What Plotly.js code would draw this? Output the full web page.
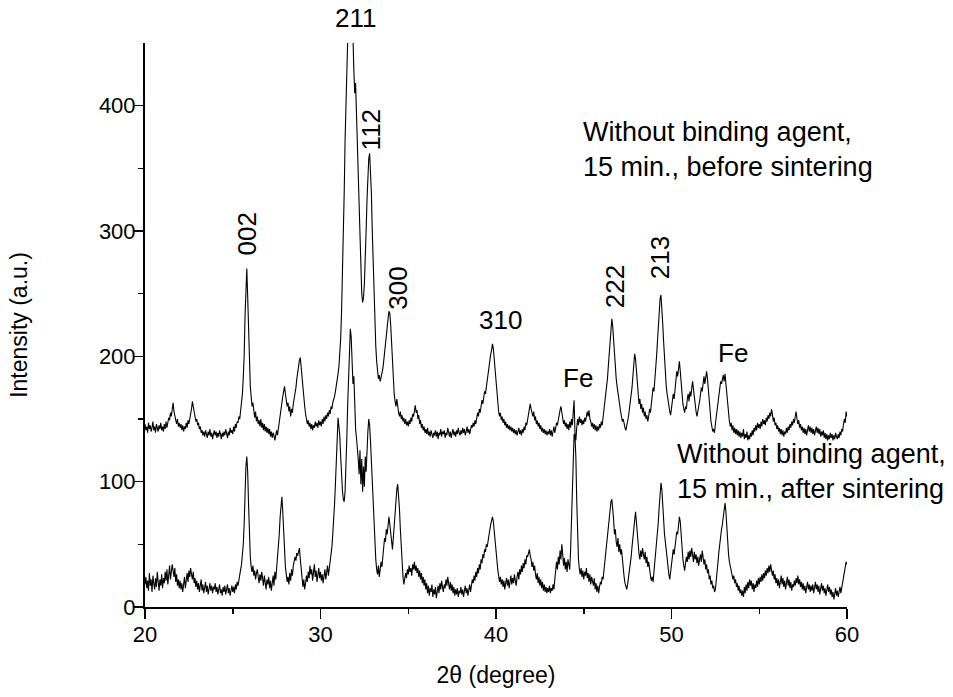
<!DOCTYPE html>
<html>
<head>
<meta charset="utf-8">
<script src="https://cdn.plot.ly/plotly-3.0.1.min.js"></script>
<style>html,body{margin:0;padding:0;background:#fff;}#chart{width:953px;height:697px;}</style>
</head>
<body>
<div id="chart"></div>
<script>
// 2θ sampling grid of the scans
const thetaStart = 20;
const thetaStep = 0.05;

// Intensity, without binding agent, 15 min., before sintering (one row per degree, 20..60)
const beforeSintering = [
146,141,144,139,147,142,145,140,143,148,141,144,139,146,143,140,145,142,147,141,
144,140,146,142,148,143,147,151,149,155,152,158,163,156,153,149,146,150,144,147,
143,146,141,145,140,144,142,147,143,149,146,150,153,158,164,159,155,152,148,150,
145,147,142,144,139,141,137,140,136,141,138,135,140,137,142,136,139,134,138,141,
137,140,135,139,136,141,138,134,139,136,140,137,142,138,135,140,137,143,139,141,
138,144,140,146,143,148,147,152,150,157,162,170,183,200,232,262,270,248,215,190,
176,168,160,163,155,151,156,148,152,146,149,144,150,143,147,141,146,140,144,139,
143,138,142,136,140,135,139,137,133,138,141,137,143,148,152,158,163,168,172,176,
170,165,160,163,156,160,152,158,155,162,166,170,175,182,188,193,197,199,190,182,
172,165,160,154,150,146,149,144,147,142,146,141,145,143,148,144,147,143,149,145,
148,144,150,146,152,148,153,150,155,152,157,154,160,158,163,165,168,172,176,180,
186,192,200,214,236,262,292,330,372,410,442,466,480,488,492,486,474,455,428,410,
418,395,370,340,310,285,265,250,243,247,258,275,300,325,345,358,362,350,330,300,
272,245,225,208,196,188,182,185,180,183,186,190,196,204,212,220,226,230,236,234,
225,210,192,178,170,164,160,166,158,155,152,156,150,153,148,151,146,150,145,148,
144,149,146,151,148,154,152,158,161,155,157,150,153,146,149,143,146,141,144,139,
142,138,143,137,140,136,141,138,135,139,137,141,136,140,134,139,137,142,136,140,
138,141,135,139,137,143,138,136,140,135,139,142,137,140,136,141,138,143,139,137,
141,138,143,139,142,137,140,144,139,142,138,141,145,143,147,144,149,146,151,155,
152,158,155,161,165,162,168,172,170,176,182,186,190,196,202,205,210,206,198,188,
176,168,160,156,152,155,149,152,147,150,145,148,143,146,142,145,141,144,140,143,
139,142,138,141,137,140,143,138,141,137,142,139,144,141,147,145,150,153,156,162,
158,155,152,156,149,152,146,149,144,147,142,145,140,143,139,142,138,141,137,140,
138,142,137,141,136,140,144,139,143,147,145,150,153,157,160,154,150,146,149,144,
147,142,146,141,148,143,150,145,155,165,138,133,143,150,145,152,147,150,145,149,
146,151,148,153,156,152,157,150,148,144,147,142,146,141,145,140,144,141,146,143,
148,145,151,155,160,166,173,182,192,204,216,226,230,224,212,200,190,182,176,170,
166,160,156,152,148,150,145,143,141,144,148,152,158,163,168,175,184,194,202,198,
188,176,168,162,166,158,162,155,159,152,156,150,153,148,152,158,155,162,168,175,
172,180,190,200,212,225,238,246,249,240,226,212,198,186,176,170,164,160,156,153,
158,164,170,166,175,182,188,184,192,196,188,178,170,162,158,155,160,158,166,170,
164,172,168,176,180,174,166,160,156,152,155,160,164,170,175,172,180,184,178,186,
188,182,172,162,155,148,144,140,142,139,146,152,158,164,170,176,180,178,183,185,
180,186,178,170,160,152,148,144,147,141,145,139,143,138,142,137,141,136,140,135,
139,136,142,134,138,135,140,133,137,134,139,136,141,137,143,140,145,141,147,143,
146,142,148,144,150,146,149,145,151,148,153,150,155,152,158,154,148,151,145,147,
142,145,140,143,138,142,137,141,136,140,138,143,139,144,141,146,143,148,145,150,
147,152,156,150,146,149,143,146,141,144,139,143,138,142,137,141,145,140,144,139,
143,138,142,137,141,144,139,143,138,142,136,140,137,141,135,139,134,138,133,137,
134,139,135,138,133,137,134,139,136,134,138,135,140,137,142,140,146,150,147,156,
152
];

// Intensity, without binding agent, 15 min., after sintering (one row per degree, 20..60)
const afterSintering = [
18,24,15,21,13,27,17,22,12,25,19,14,23,16,28,20,13,22,17,26,
15,23,19,28,21,30,18,25,33,22,27,34,29,24,31,20,26,17,22,15,
21,14,19,12,18,24,15,22,27,20,29,24,31,26,22,28,19,23,16,21,
14,19,12,17,22,13,18,11,16,20,12,17,10,15,19,13,17,11,16,14,
19,12,16,10,15,18,11,14,9,16,12,17,10,14,18,11,15,9,13,17,
12,16,11,18,14,20,17,23,26,30,34,40,50,66,92,112,120,108,82,58,
40,32,28,33,25,29,22,27,30,24,19,26,21,28,23,17,25,20,14,22,
18,24,15,21,13,19,25,17,28,22,30,38,46,58,72,85,88,76,58,42,
32,26,20,24,18,27,21,30,25,33,36,40,37,43,41,46,47,38,28,20,
16,22,14,19,25,20,28,23,33,26,30,21,27,34,24,29,20,26,31,23,
28,21,26,19,24,30,22,27,33,25,30,36,42,48,58,68,82,98,118,142,
151,144,136,120,104,93,86,84,92,110,135,162,188,210,222,215,196,178,184,160,
142,135,128,118,106,125,98,118,92,112,96,120,108,128,140,150,145,132,115,95,
78,62,48,38,30,26,33,24,30,36,32,40,48,55,52,62,58,68,72,66,
58,50,46,55,64,76,88,94,98,90,78,62,45,32,24,18,22,27,23,30,
26,33,28,31,25,34,30,36,29,33,27,31,24,29,22,27,19,24,17,22,
14,19,11,17,9,15,12,18,8,14,10,16,7,13,17,11,19,14,21,16,
12,18,15,22,17,24,19,14,20,13,18,11,16,9,14,10,15,8,13,11,
16,10,14,8,13,17,11,15,9,14,18,12,17,22,19,25,21,28,24,31,
27,34,30,38,35,42,39,46,44,50,48,54,58,62,66,70,72,68,60,50,
42,36,30,25,20,24,18,22,16,21,14,19,23,17,22,15,20,25,18,23,
19,26,21,17,24,28,22,30,26,33,28,35,31,38,34,41,40,44,46,41,
38,32,36,29,33,26,22,27,19,24,17,22,15,20,13,18,12,16,11,15,
12,17,11,15,13,18,14,22,28,36,30,40,34,45,38,50,42,33,39,30,
36,28,38,32,30,45,70,105,132,138,136,120,85,55,38,30,26,31,24,29,
22,28,25,31,23,27,20,26,18,24,21,17,23,14,19,12,17,11,16,20,
18,24,22,29,33,40,46,55,62,70,78,84,86,80,70,58,62,52,48,55,
44,50,42,46,36,30,24,19,15,14,18,23,28,34,40,48,56,66,74,76,
68,58,48,42,38,45,40,47,42,38,44,35,40,32,36,28,25,21,24,20,
28,34,40,48,58,68,80,92,99,94,80,68,58,52,44,36,30,26,22,27,
34,40,46,42,50,55,60,58,66,72,68,56,46,38,33,29,35,40,36,44,
38,45,40,47,42,36,44,38,42,35,40,33,38,42,36,45,40,34,38,30,
34,27,30,22,25,18,21,15,17,12,14,20,28,36,44,52,58,62,66,72,
78,83,76,62,50,42,36,32,29,26,22,25,19,22,16,19,13,17,11,14,
9,13,8,16,11,18,13,20,15,22,17,21,14,19,12,18,15,21,16,23,
18,24,20,26,21,27,23,29,25,31,27,33,28,34,30,25,29,22,26,19,
23,17,22,15,20,25,18,23,16,21,14,19,24,17,22,15,20,13,18,16,
21,17,23,19,25,18,22,16,20,14,19,13,17,11,16,20,14,18,12,17,
13,18,11,16,20,14,18,12,17,10,15,19,13,17,11,15,9,14,18,12,
16,10,14,8,12,6,11,15,9,13,8,12,16,11,15,19,24,28,31,36,
34
];

// Peak labels
const peakLabels = ['211', '112', '002', '300', '310', '222', '213', 'Fe', 'Fe'];
const seriesLabels = [
  'Without binding agent,<br>15 min., before sintering',
  'Without binding agent,<br>15 min., after sintering'
];
const xTickVals = [20, 30, 40, 50, 60];
const yTickVals = [0, 100, 200, 300, 400];

const theta = (arr) => arr.map((_, i) => +(thetaStart + i * thetaStep).toFixed(2));

const FONT = 'Liberation Sans, Arial, sans-serif';
const lineStyle = {color: '#000', width: 1.1};

const traces = [
  {x: theta(beforeSintering), y: beforeSintering, type: 'scatter', mode: 'lines', line: lineStyle, hoverinfo: 'skip'},
  {x: theta(afterSintering), y: afterSintering, type: 'scatter', mode: 'lines', line: lineStyle, hoverinfo: 'skip'}
];

// annotation placement (layout): [x, y, angle, yref]
const peakPos = [
  [32.02, 1.044, 0, 'paper'], [32.93, 381, -90, 'y'], [25.81, 298, -90, 'y'], [34.42, 254, -90, 'y'],
  [40.23, 229, 0, 'y'], [46.78, 256, -90, 'y'], [49.34, 279, -90, 'y'], [44.67, 183, 0, 'y'], [53.5, 203, 0, 'y']
];
const annotations = peakLabels.map((t, i) => ({
  text: t, x: peakPos[i][0], y: peakPos[i][1], xref: 'x', yref: peakPos[i][3],
  textangle: peakPos[i][2], showarrow: false, xanchor: 'center', yanchor: 'middle',
  font: {family: FONT, size: 26, color: '#000'}
}));
const seriesPos = [[44.85, 365], [50.2, 108]];
seriesLabels.forEach((t, i) => annotations.push({
  text: t, x: seriesPos[i][0], y: seriesPos[i][1], xref: 'x', yref: 'y',
  showarrow: false, xanchor: 'left', yanchor: 'middle', align: 'left',
  font: {family: FONT, size: 27, color: '#000'}
}));

const axisCommon = {
  showgrid: false, zeroline: false, showline: true, linecolor: '#000', linewidth: 2,
  ticks: 'outside', ticklen: 10, tickwidth: 1.5, tickcolor: '#000',
  tickfont: {family: FONT, size: 22, color: '#000'},
  minor: {ticks: 'outside', ticklen: 5, tickwidth: 1.5, tickcolor: '#000', showgrid: false},
  mirror: false, fixedrange: true
};

const layout = {
  width: 953, height: 697,
  margin: {l: 145, r: 106, t: 43, b: 90, pad: 0},
  paper_bgcolor: '#fff', plot_bgcolor: '#fff',
  showlegend: false,
  font: {family: FONT, color: '#000'},
  xaxis: Object.assign({}, axisCommon, {
    range: [20, 60], tickvals: xTickVals, ticktext: xTickVals.map(String),
    minor: Object.assign({}, axisCommon.minor, {tickvals: [25, 35, 45, 55]}),
    ticklabelstandoff: -3,
    title: {text: '2θ (degree)', font: {family: FONT, size: 23, color: '#000'}, standoff: 20}
  }),
  yaxis: Object.assign({}, axisCommon, {
    range: [0, 450], tickvals: yTickVals, ticktext: yTickVals.map(String),
    minor: Object.assign({}, axisCommon.minor, {tickvals: [50, 150, 250, 350]}),
    ticklabelstandoff: -7,
    title: {text: 'Intensity (a.u.)', font: {family: FONT, size: 23, color: '#000'}, standoff: 65}
  }),
  annotations: annotations
};

Plotly.newPlot('chart', traces, layout, {staticPlot: true, displayModeBar: false});
</script>
</body>
</html>
